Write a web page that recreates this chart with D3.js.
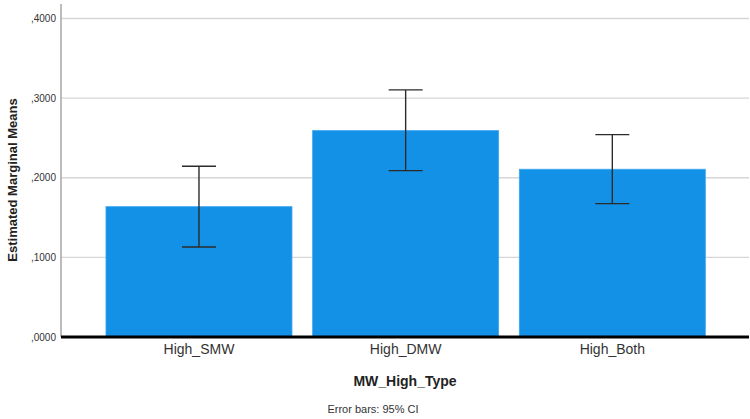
<!DOCTYPE html>
<html><head><meta charset="utf-8">
<script src="https://cdn.jsdelivr.net/npm/d3@7"></script>
<style>body{margin:0;background:#fff;} text{font-family:"Liberation Sans",Arial,sans-serif;}</style>
</head><body>
<svg id="c" width="750" height="419"></svg>
<script>
const categories = ["High_SMW", "High_DMW", "High_Both"];
const means = [0.1637, 0.2592, 0.2107];
const ciLow = [0.1131, 0.2089, 0.1675];
const ciHigh = [0.2144, 0.3103, 0.2541];
const yTicks = [0, 0.1, 0.2, 0.3, 0.4];
const xTitle = "MW_High_Type";
const yTitle = "Estimated Marginal Means";
const note = "Error bars: 95% CI";

(function () {
const svg = d3.select("#c");
const mLeft = 61, mRight = 749, mTop = 4, mBottom = 337;
const y = d3.scaleLinear().domain([0, 0.4]).range([mBottom, 18.5]);
const x = d3.scaleBand().domain(categories).range([85.3, 726]).paddingInner(0.1).paddingOuter(0.1);
const fmt = v => "," + d3.format(".4f")(v).split(".")[1];

// gridlines
svg.append("g").selectAll("line").data(yTicks.filter(d => d > 0)).join("line")
  .attr("x1", mLeft).attr("x2", mRight).attr("y1", d => y(d)).attr("y2", d => y(d))
  .attr("stroke", "#d6d6d6").attr("stroke-width", 1.3);

// y axis
const yAxis = svg.append("g").attr("transform", `translate(${mLeft},0)`)
  .call(d3.axisLeft(y).tickValues(yTicks).tickFormat(fmt).tickSize(0).tickPadding(5));
yAxis.select(".domain").remove();
yAxis.selectAll("text").attr("font-size", 10).attr("fill", "#333").attr("font-family", "Liberation Sans, Arial, sans-serif");
svg.append("line").attr("x1", mLeft).attr("x2", mLeft).attr("y1", mTop).attr("y2", mBottom)
  .attr("stroke", "#a6a6a6").attr("stroke-width", 1.5);

// bars
svg.append("g").selectAll("rect").data(categories).join("rect")
  .attr("x", d => x(d)).attr("width", x.bandwidth())
  .attr("y", (d, i) => y(means[i])).attr("height", (d, i) => y(0) - y(means[i]))
  .attr("fill", "#1391e6").attr("stroke", "#3fa6ee").attr("stroke-width", 0.8);

// error bars
const eb = svg.append("g").attr("stroke", "#2b2b2b").attr("stroke-width", 1.4);
categories.forEach((c, i) => {
  const cx = x(c) + x.bandwidth() / 2;
  eb.append("line").attr("x1", cx).attr("x2", cx).attr("y1", y(ciLow[i])).attr("y2", y(ciHigh[i]));
  eb.append("line").attr("x1", cx - 17).attr("x2", cx + 17).attr("y1", y(ciLow[i])).attr("y2", y(ciLow[i]));
  eb.append("line").attr("x1", cx - 17).attr("x2", cx + 17).attr("y1", y(ciHigh[i])).attr("y2", y(ciHigh[i]));
});

// baseline
svg.append("line").attr("x1", mLeft).attr("x2", mRight).attr("y1", mBottom).attr("y2", mBottom)
  .attr("stroke", "#000").attr("stroke-width", 3);

// x axis labels
const xAxis = svg.append("g").attr("transform", `translate(0,${mBottom + 2})`)
  .call(d3.axisBottom(x).tickSize(0).tickPadding(5));
xAxis.select(".domain").remove();
xAxis.selectAll("text").attr("font-size", 14).attr("fill", "#333").attr("font-family", "Liberation Sans, Arial, sans-serif");

svg.append("text").attr("x", 405).attr("y", 386).attr("text-anchor", "middle")
  .attr("font-size", 14).attr("font-weight", "bold").attr("fill", "#222").text(xTitle);
svg.append("text").attr("x", 373).attr("y", 413).attr("text-anchor", "middle")
  .attr("font-size", 11).attr("fill", "#333").text(note);
svg.append("text").attr("transform", "translate(17,180) rotate(-90)").attr("text-anchor", "middle")
  .attr("font-size", 13).attr("font-weight", "bold").attr("fill", "#222").text(yTitle);
})();
</script>
</body></html>
